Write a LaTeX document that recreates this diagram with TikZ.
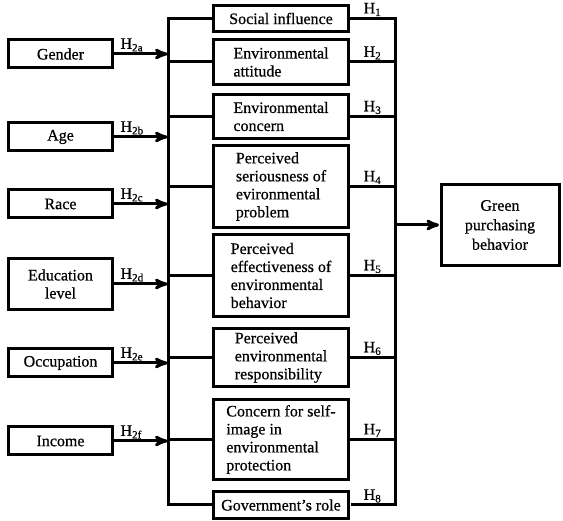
\documentclass[tikz,border=0pt]{standalone}
\usepackage{fontspec}
\setmainfont{Liberation Serif}[UprightFeatures={FakeBold=0.6}]
\usetikzlibrary{arrows}
\usetikzlibrary{positioning}

\begin{document}
\begin{tikzpicture}[x=1pt,y=-1pt,>=stealth',shorten >=0.5pt,line width=3pt,
  font=\fontsize{16}{18}\selectfont,
  demo node/.style={draw,minimum width=104pt,minimum height=28pt,align=center,inner sep=2pt},
  factor node/.style={draw,minimum width=135pt,align=left,inner sep=2pt},
  hyp/.style={inner sep=1pt,font=\fontsize{16}{16}\selectfont}]

  \useasboundingbox (0,0) rectangle (563,521);

  \node[demo node] (gender) at (60.5,54) {Gender};
  \node[demo node] (age) at (60.5,137) {Age};
  \node[demo node] (race) at (60.5,204) {Race};
  \node[demo node,minimum height=51pt] (edu) at (60.5,284) {Education\\level};
  \node[demo node] (occ) at (60.5,363) {Occupation};
  \node[demo node] (inc) at (60.5,441) {Income};

  \node[factor node,minimum height=26pt] (f1) at (281,18.5) {Social influence};
  \node[factor node,minimum height=45pt] (f2) at (281,62) {Environmental\\attitude};
  \node[factor node,minimum height=44pt] (f3) at (281,116.5) {Environmental\\concern};
  \node[factor node,minimum height=82pt] (f4) at (281,186.5) {Perceived\\seriousness of\\evironmental\\problem};
  \node[factor node,minimum height=82pt] (f5) at (281,275.5) {Perceived\\effectiveness of\\environmental\\behavior};
  \node[factor node,minimum height=58pt] (f6) at (281,357.5) {Perceived\\environmental\\responsibility};
  \node[factor node,minimum height=80pt] (f7) at (281,439.5) {Concern for self-\\image in\\environmental\\protection};
  \node[factor node,minimum height=27pt] (f8) at (281,505) {Government's role};

  \node[draw,minimum width=118pt,minimum height=81pt,align=center,
    font=\fontsize{16}{19.5}\selectfont] (green) at (500,225) {Green\\purchasing\\behavior};

  \coordinate (busL) at (168,0);
  \coordinate (busR) at (395,0);

  \draw (f1.west) -- (f1.west -| busL) -- (f8.west -| busL) -- (f8.west);
  \foreach \f in {f2,f3,f4,f5,f6,f7}
    \draw (\f.west -| busL) -- (\f.west);

  \draw (f1.east) -- (f1.east -| busR) node[midway,above,hyp] {H\textsubscript{1}}
    -- (f8.east -| busR) -- (f8.east) node[midway,above,hyp] {H\textsubscript{8}};
  \foreach \f/\n in {f2/2,f3/3,f4/4,f5/5,f6/6,f7/7}
    \draw (\f.east) -- (\f.east -| busR) node[midway,above,hyp] {H\textsubscript{\n}};

  \foreach \d/\s in {gender/2a,age/2b,race/2c,edu/2d,occ/2e,inc/2f}
    \draw[->] (\d.east) -- (\d.east -| busL) node[pos=0,above right,hyp,xshift=4pt] {H\textsubscript{\s}};

  \draw[->] (busR |- green.west) -- (green.west);
\end{tikzpicture}
\end{document}
